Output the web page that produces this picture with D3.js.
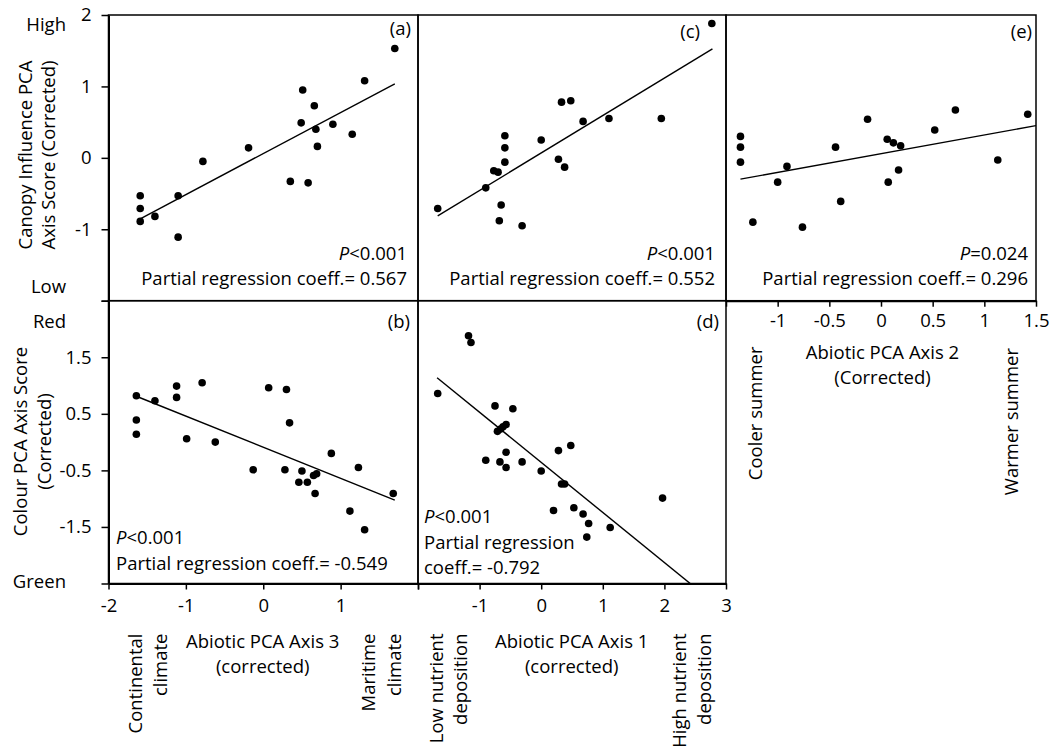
<!DOCTYPE html>
<html>
<head>
<meta charset="utf-8">
<script src="https://cdn.jsdelivr.net/npm/d3@7"></script>
<style>
  html, body { margin: 0; padding: 0; background: #fff; }
  svg { display: block; }
</style>
</head>
<body>
<svg id="chart" width="1058" height="752"></svg>
<script>
// ---- Data -------------------------------------------------------------
// (a) Abiotic PCA axis 3 vs canopy influence score
const aX = [-1.59, -1.59, -1.59, -1.40, -1.10, -1.10, -0.78, -0.19, 0.35, 0.49, 0.51, 0.58, 0.66, 0.68, 0.70, 0.90, 1.15, 1.31, 1.70];
const aY = [-0.53, -0.71, -0.89, -0.82, -0.53, -1.11, -0.05, 0.14, -0.33, 0.49, 0.95, -0.35, 0.73, 0.40, 0.16, 0.47, 0.33, 1.08, 1.53];

// (b) Abiotic PCA axis 3 vs colour score
const bX = [-1.64, -1.64, -1.64, -1.40, -1.12, -1.12, -0.99, -0.79, -0.62, -0.13, 0.07, 0.28, 0.30, 0.34, 0.46, 0.50, 0.57, 0.65, 0.69, 0.67, 0.88, 1.12, 1.23, 1.31, 1.68];
const bY = [0.82, 0.39, 0.14, 0.73, 0.99, 0.79, 0.06, 1.05, 0.00, -0.49, 0.96, -0.49, 0.93, 0.34, -0.71, -0.51, -0.71, -0.59, -0.56, -0.91, -0.20, -1.22, -0.45, -1.55, -0.91];

// (c) Abiotic PCA axis 1 vs canopy influence score
const cX = [-1.68, -0.90, -0.77, -0.70, -0.68, -0.65, -0.59, -0.59, -0.59, -0.31, 0.00, 0.28, 0.33, 0.38, 0.48, 0.68, 1.10, 1.95, 2.77];
const cY = [-0.71, -0.42, -0.18, -0.20, -0.88, -0.66, 0.31, 0.14, -0.06, -0.95, 0.25, -0.02, 0.78, -0.13, 0.80, 0.51, 0.55, 0.55, 1.88];

// (d) Abiotic PCA axis 1 vs colour score
const dX = [-1.68, -1.18, -1.14, -0.90, -0.75, -0.71, -0.67, -0.66, -0.62, -0.57, -0.57, -0.57, -0.46, -0.31, 0.00, 0.20, 0.28, 0.33, 0.38, 0.48, 0.53, 0.68, 0.77, 0.74, 1.12, 1.97];
const dY = [0.86, 1.88, 1.76, -0.32, 0.64, 0.19, -0.35, 0.23, 0.27, 0.31, -0.18, -0.45, 0.59, -0.35, -0.51, -1.21, -0.15, -0.74, -0.74, -0.06, -1.16, -1.27, -1.44, -1.68, -1.51, -0.99];

// (e) Abiotic PCA axis 2 vs canopy influence score
const eX = [-1.36, -1.36, -1.36, -1.24, -1.00, -0.91, -0.76, -0.44, -0.39, -0.13, 0.06, 0.07, 0.12, 0.17, 0.19, 0.52, 0.72, 1.13, 1.42];
const eY = [0.30, 0.15, -0.06, -0.90, -0.34, -0.12, -0.97, 0.15, -0.61, 0.54, 0.26, -0.34, 0.21, -0.17, 0.17, 0.39, 0.67, -0.03, 0.61];

// x-span of each fitted trend line
const aFitSpan = [-1.59, 1.70];
const bFitSpan = [-1.64, 1.70];
const cFitSpan = [-1.68, 2.78];
const dFitSpan = [-1.69, 2.60];
const eFitSpan = [-1.36, 1.50];

// Ticks and tick labels
const axis3Ticks = [-2, -1, 0, 1, 2];
const axis3TickLabels = ['-2', '-1', '0', '1', ''];
const axis1Ticks = [-2, -1, 0, 1, 2, 3];
const axis1TickLabels = ['', '-1', '0', '1', '2', '3'];
const axis2Ticks = [-1.5, -1, -0.5, 0, 0.5, 1, 1.5];
const axis2TickLabels = ['', '-1', '-0.5', '0', '0.5', '1', '1.5'];
const canopyTicks = [-2, -1, 0, 1, 2];
const canopyTickLabels = ['', '-1', '0', '1', '2'];
const colourTicks = [-2.5, -1.5, -0.5, 0.5, 1.5, 2.5];
const colourTickLabels = ['', '-1.5', '-0.5', '0.5', '1.5', ''];

// Panel labels and statistics
const panelTags = ['(a)', '(b)', '(c)', '(d)', '(e)'];
const pOperators = ['<0.001', '<0.001', '<0.001', '<0.001', '=0.024'];
const coefValues = ['0.567', '-0.549', '0.552', '-0.792', '0.296'];

// ---- Layout -----------------------------------------------------------
const colEdges = [108.5, 418, 726, 1036];
const rowEdges = [15, 300.7, 583.5];
const FONT = "'Open Sans', sans-serif";
const FS = 18.5;

const xAxis3 = d3.scaleLinear().domain([-2, 2]).range([colEdges[0], colEdges[1]]);
const xAxis1 = d3.scaleLinear().domain([-2, 3]).range([colEdges[1], colEdges[2]]);
const xAxis2 = d3.scaleLinear().domain([-1.5, 1.5]).range([colEdges[2], colEdges[3]]);
const yCanopy = d3.scaleLinear().domain([-2, 2]).range([rowEdges[1], rowEdges[0]]);
const yColour = d3.scaleLinear().domain([-2.5, 2.5]).range([rowEdges[2], rowEdges[1]]);

const svg = d3.select('#chart');
svg.append('rect').attr('width', 1058).attr('height', 752).attr('fill', '#fff');

function ols(xs, ys) {
  const mx = d3.mean(xs), my = d3.mean(ys);
  let sxy = 0, sxx = 0;
  xs.forEach((x, i) => { sxy += (x - mx) * (ys[i] - my); sxx += (x - mx) * (x - mx); });
  const slope = sxy / sxx;
  return { slope, intercept: my - slope * mx };
}

const panels = [
  { id: 'a', x: xAxis3, y: yCanopy, xs: aX, ys: aY, span: aFitSpan },
  { id: 'b', x: xAxis3, y: yColour, xs: bX, ys: bY, span: bFitSpan },
  { id: 'c', x: xAxis1, y: yCanopy, xs: cX, ys: cY, span: cFitSpan },
  { id: 'd', x: xAxis1, y: yColour, xs: dX, ys: dY, span: dFitSpan },
  { id: 'e', x: xAxis2, y: yCanopy, xs: eX, ys: eY, span: eFitSpan }
];

const defs = svg.append('defs');

panels.forEach(p => {
  const [x0, x1] = p.x.range();
  const [y1, y0] = p.y.range();
  defs.append('clipPath').attr('id', 'clip-' + p.id)
    .append('rect').attr('x', x0).attr('y', y0).attr('width', x1 - x0).attr('height', y1 - y0);

  const g = svg.append('g').attr('class', 'panel panel-' + p.id);

  // frame
  g.append('rect')
    .attr('x', x0).attr('y', y0).attr('width', x1 - x0).attr('height', y1 - y0)
    .attr('fill', 'none').attr('stroke', '#000').attr('stroke-width', 1.5);

  // least-squares trend line
  const fit = ols(p.xs, p.ys);
  g.append('line')
    .attr('clip-path', 'url(#clip-' + p.id + ')')
    .attr('x1', p.x(p.span[0])).attr('y1', p.y(fit.intercept + fit.slope * p.span[0]))
    .attr('x2', p.x(p.span[1])).attr('y2', p.y(fit.intercept + fit.slope * p.span[1]))
    .attr('stroke', '#000').attr('stroke-width', 1.4);

  // points
  g.selectAll('circle').data(p.xs.map((v, i) => [v, p.ys[i]]))
    .join('circle')
    .attr('cx', d => p.x(d[0])).attr('cy', d => p.y(d[1]))
    .attr('r', 3.8).attr('fill', '#000');
});

// ---- Axes -------------------------------------------------------------
function styleAxis(sel, width) {
  sel.attr('font-family', FONT).attr('font-size', FS);
  sel.select('.domain').attr('stroke', '#000').attr('stroke-width', width);
  sel.selectAll('.tick line').attr('stroke', '#000').attr('stroke-width', 1.5);
  sel.selectAll('.tick text').attr('fill', '#000');
}

svg.append('g').attr('transform', `translate(${colEdges[0]},0)`)
  .call(d3.axisLeft(yCanopy).tickValues(canopyTicks).tickFormat((d, i) => canopyTickLabels[i])
    .tickSize(7).tickPadding(10).tickSizeOuter(0))
  .call(s => styleAxis(s, 2));

svg.append('g').attr('transform', `translate(${colEdges[0]},0)`)
  .call(d3.axisLeft(yColour).tickValues(colourTicks).tickFormat((d, i) => colourTickLabels[i])
    .tickSize(7).tickPadding(10).tickSizeOuter(0))
  .call(s => styleAxis(s, 2));

svg.append('g').attr('transform', `translate(0,${rowEdges[2]})`)
  .call(d3.axisBottom(xAxis3).tickValues(axis3Ticks).tickFormat((d, i) => axis3TickLabels[i])
    .tickSize(6).tickPadding(9).tickSizeOuter(0))
  .call(s => styleAxis(s, 2));

svg.append('g').attr('transform', `translate(0,${rowEdges[2]})`)
  .call(d3.axisBottom(xAxis1).tickValues(axis1Ticks).tickFormat((d, i) => axis1TickLabels[i])
    .tickSize(6).tickPadding(9).tickSizeOuter(0))
  .call(s => styleAxis(s, 2));

svg.append('g').attr('transform', `translate(0,${rowEdges[1]})`)
  .call(d3.axisBottom(xAxis2).tickValues(axis2Ticks).tickFormat((d, i) => axis2TickLabels[i])
    .tickSize(6).tickPadding(7).tickSizeOuter(0))
  .call(s => styleAxis(s, 2));

// ---- Text -------------------------------------------------------------
function txt(x, y, s, anchor, rotate) {
  const t = svg.append('text')
    .attr('font-family', FONT).attr('font-size', FS).attr('fill', '#000')
    .attr('text-anchor', anchor || 'start');
  if (rotate) t.attr('transform', `translate(${x},${y}) rotate(-90)`);
  else t.attr('x', x).attr('y', y);
  t.text(s);
  return t;
}
function pText(x, y, op, anchor) {
  const t = svg.append('text')
    .attr('font-family', FONT).attr('font-size', FS).attr('fill', '#000')
    .attr('text-anchor', anchor).attr('x', x).attr('y', y);
  t.append('tspan').attr('font-style', 'italic').text('P');
  t.append('tspan').text(op);
}

// panel tags
txt(colEdges[1] - 7, 35, panelTags[0], 'end');
txt(colEdges[2] - 26, 38, panelTags[2], 'end');
txt(colEdges[3] - 4, 38, panelTags[4], 'end');
txt(colEdges[1] - 8, 328, panelTags[1], 'end');
txt(colEdges[2] - 7, 328, panelTags[3], 'end');

// statistics, top row (right aligned)
[[0, colEdges[1] - 11], [2, colEdges[2] - 11], [4, colEdges[3] - 8]].forEach(([k, xr]) => {
  pText(xr, 259.5, pOperators[k], 'end');
  txt(xr, 284.5, 'Partial regression coeff.= ' + coefValues[k], 'end');
});
// statistics, panel (b)
pText(colEdges[0] + 7.5, 544, pOperators[1], 'start');
txt(colEdges[0] + 7.5, 570, 'Partial regression coeff.= ' + coefValues[1], 'start');
// statistics, panel (d)
pText(colEdges[1] + 6, 522.5, pOperators[3], 'start');
txt(colEdges[1] + 6, 549, 'Partial regression', 'start');
txt(colEdges[1] + 6, 573.5, 'coeff.= ' + coefValues[3], 'start');

// y-axis end descriptors
txt(66, 31, 'High', 'end');
txt(66, 292.5, 'Low', 'end');
txt(66, 327.5, 'Red', 'end');
txt(66, 588, 'Green', 'end');

// y-axis titles
txt(31.5, 155, 'Canopy Influence PCA', 'middle', true);
txt(55, 155, 'Axis Score (Corrected)', 'middle', true);
txt(26.5, 441.5, 'Colour PCA Axis Score', 'middle', true);
txt(51, 441.5, '(Corrected)', 'middle', true);

// x-axis titles
txt(262.7, 647.5, 'Abiotic PCA Axis 3', 'middle');
txt(262.7, 672.5, '(corrected)', 'middle');
txt(571.7, 647.5, 'Abiotic PCA Axis 1', 'middle');
txt(571.7, 672.5, '(corrected)', 'middle');
txt(882.5, 358.5, 'Abiotic PCA Axis 2', 'middle');
txt(882.5, 383.5, '(Corrected)', 'middle');

// gradient descriptors along the x axes
txt(141.5, 633.5, 'Continental', 'end', true);
txt(167, 633.5, 'climate', 'end', true);
txt(375, 633.5, 'Maritime', 'end', true);
txt(400.5, 633.5, 'climate', 'end', true);
txt(443.3, 633.5, 'Low nutrient', 'end', true);
txt(466.5, 633.5, 'deposition', 'end', true);
txt(686, 633.5, 'High nutrient', 'end', true);
txt(711, 633.5, 'deposition', 'end', true);
txt(761.5, 346.5, 'Cooler summer', 'end', true);
txt(1018, 348, 'Warmer summer', 'end', true);
</script>
</body>
</html>
